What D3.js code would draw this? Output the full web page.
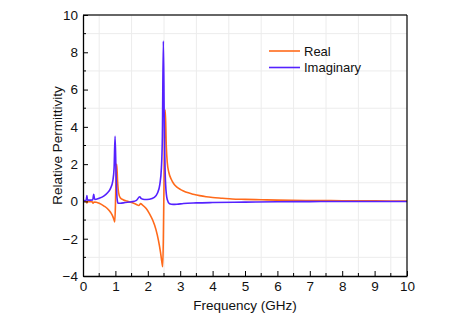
<!DOCTYPE html>
<html>
<head>
<meta charset="utf-8">
<script src="https://cdn.jsdelivr.net/npm/d3@7"></script>
<style>
  body { margin: 0; background: #fff; }
  svg { font-family: 'Liberation Sans', Arial, sans-serif; }
</style>
</head>
<body>
<script>
const realFreq = [0, 0.1, 0.12, 0.14, 0.28, 0.31, 0.34, 0.5, 0.65, 0.75, 0.85, 0.92, 0.96, 0.98,
  1.0, 1.02, 1.04, 1.07, 1.1, 1.15, 1.25, 1.35, 1.5, 1.65, 1.72, 1.78, 1.83, 1.95, 2.05, 2.15,
  2.25, 2.33, 2.39, 2.43, 2.46, 2.48, 2.5, 2.52, 2.54, 2.57, 2.6, 2.65, 2.72, 2.8, 2.9, 3.0,
  3.1, 3.25, 3.4, 3.6, 3.8, 4.0, 4.3, 4.6, 5.0, 5.5, 6.0, 7.0, 8.0, 9.0, 10]
const realVals = [0.02, 0.0, -0.08, 0.0, -0.02, -0.1, -0.03, -0.1, -0.25, -0.38, -0.58, -0.8, -1.0, -1.1,
  -0.3, 1.4, 2.0, 1.0, 0.45, 0.2, 0.08, 0.02, -0.06, -0.16, -0.22, -0.12, -0.18, -0.38, -0.65, -1.0,
  -1.5, -2.1, -2.7, -3.2, -3.5, -2.0, 1.0, 4.5, 4.9, 3.0, 2.1, 1.55, 1.2, 0.95, 0.77, 0.65,
  0.56, 0.46, 0.39, 0.31, 0.25, 0.21, 0.17, 0.13, 0.11, 0.09, 0.07, 0.05, 0.04, 0.03, 0.02]

const imagFreq = [0, 0.1, 0.12, 0.14, 0.3, 0.33, 0.36, 0.5, 0.65, 0.75, 0.85, 0.92, 0.96, 0.99,
  1.02, 1.05, 1.08, 1.15, 1.3, 1.5, 1.65, 1.75, 1.8, 1.9, 2.05, 2.2, 2.3, 2.37, 2.42, 2.45,
  2.48, 2.51, 2.55, 2.6, 2.67, 2.78, 2.9, 3.1, 3.5, 4.0, 5.0, 6.0, 7.0, 8.0, 10]
const imagVals = [0.05, 0.06, 0.32, 0.07, 0.08, 0.38, 0.1, 0.17, 0.3, 0.45, 0.7, 1.1, 1.8, 3.5,
  1.5, 0.2, -0.1, -0.1, -0.06, -0.02, 0.06, 0.25, 0.15, 0.1, 0.12, 0.22, 0.45, 0.9, 1.8, 3.5,
  8.6, 4.0, 0.9, 0.1, -0.12, -0.16, -0.15, -0.11, -0.08, -0.06, -0.04, -0.02, -0.01, 0.0, 0.0]

const xTicks = [0, 1, 2, 3, 4, 5, 6, 7, 8, 9, 10]
const yTicks = [-4, -2, 0, 2, 4, 6, 8, 10]
const seriesNames = ['Real', 'Imaginary']
const seriesColors = ['#ff6a1a', '#5522ff']

const width = 456
const height = 319
const margin = { left: 83, right: 49, top: 15, bottom: 43 }

const x = d3.scaleLinear().domain([0, 10]).range([margin.left, width - margin.right])
const y = d3.scaleLinear().domain([-4, 10]).range([height - margin.bottom, margin.top])

const svg = d3.select('body').append('svg').attr('width', width).attr('height', height)

// grid at the minor positions
const xGrid = d3.range(0.5, 10, 1)
const yGrid = d3.range(-3, 10, 2)
svg.append('g').selectAll('line').data(xGrid).join('line')
  .attr('x1', (d) => x(d)).attr('x2', (d) => x(d))
  .attr('y1', y(-4)).attr('y2', y(10))
  .attr('stroke', '#ececec').attr('stroke-width', 1)
svg.append('g').selectAll('line').data(yGrid).join('line')
  .attr('x1', x(0)).attr('x2', x(10))
  .attr('y1', (d) => y(d)).attr('y2', (d) => y(d))
  .attr('stroke', '#ececec').attr('stroke-width', 1)

// curves
const line = d3.line().x((d) => x(d[0])).y((d) => y(d[1])).curve(d3.curveMonotoneX)
const realData = d3.zip(realFreq, realVals)
const imagData = d3.zip(imagFreq, imagVals)
;[realData, imagData].forEach((data, i) => {
  svg.append('path').datum(data)
    .attr('d', line)
    .attr('fill', 'none')
    .attr('stroke', seriesColors[i])
    .attr('stroke-width', 1.6)
})

// frame
svg.append('line').attr('x1', x(0)).attr('x2', x(10)).attr('y1', y(10)).attr('y2', y(10))
  .attr('stroke', '#333').attr('stroke-width', 1.3)
svg.append('line').attr('x1', x(10)).attr('x2', x(10)).attr('y1', y(10)).attr('y2', y(-4))
  .attr('stroke', '#000').attr('stroke-width', 1.2)

// axes with inward ticks
const xAxis = svg.append('g').attr('transform', `translate(0,${y(-4)})`)
  .call(d3.axisBottom(x).tickValues(xTicks).tickSizeInner(-5).tickSizeOuter(0).tickPadding(5))
xAxis.append('g').selectAll('line').data(d3.range(0.5, 10, 1)).join('line')
  .attr('x1', (d) => x(d)).attr('x2', (d) => x(d)).attr('y1', 0).attr('y2', -3)
  .attr('stroke', '#000')

const yAxis = svg.append('g').attr('transform', `translate(${x(0)},0)`)
  .call(d3.axisLeft(y).tickValues(yTicks).tickSizeInner(-5).tickSizeOuter(0).tickPadding(5))
yAxis.append('g').selectAll('line').data(d3.range(-3, 10, 2)).join('line')
  .attr('y1', (d) => y(d)).attr('y2', (d) => y(d)).attr('x1', 0).attr('x2', 3)
  .attr('stroke', '#000')

;[xAxis, yAxis].forEach((g) => {
  g.select('.domain').attr('stroke', '#000').attr('stroke-width', 1.3)
  g.selectAll('.tick line').attr('stroke', '#000')
  g.selectAll('.tick text').attr('font-size', 13.5).attr('fill', '#111')
    .attr('font-family', "'Liberation Sans', Arial, sans-serif")
})

// axis titles
svg.append('text')
  .attr('x', (x(0) + x(10)) / 2).attr('y', 310)
  .attr('text-anchor', 'middle').attr('font-size', 13.5).attr('fill', '#111')
  .text('Frequency (GHz)')
svg.append('text')
  .attr('transform', `translate(62,${(y(-4) + y(10)) / 2}) rotate(-90)`)
  .attr('text-anchor', 'middle').attr('font-size', 13.5).attr('fill', '#111')
  .text('Relative Permittivity')

// legend
const legend = svg.append('g').attr('transform', 'translate(269,51)')
seriesNames.forEach((name, i) => {
  legend.append('line').attr('x1', 0).attr('x2', 31).attr('y1', i * 16.5).attr('y2', i * 16.5)
    .attr('stroke', seriesColors[i]).attr('stroke-width', 1.6)
  legend.append('text').attr('x', 35).attr('y', i * 16.5 + 4.5)
    .attr('font-size', 13).attr('fill', '#111').text(name)
})
</script>
</body>
</html>
